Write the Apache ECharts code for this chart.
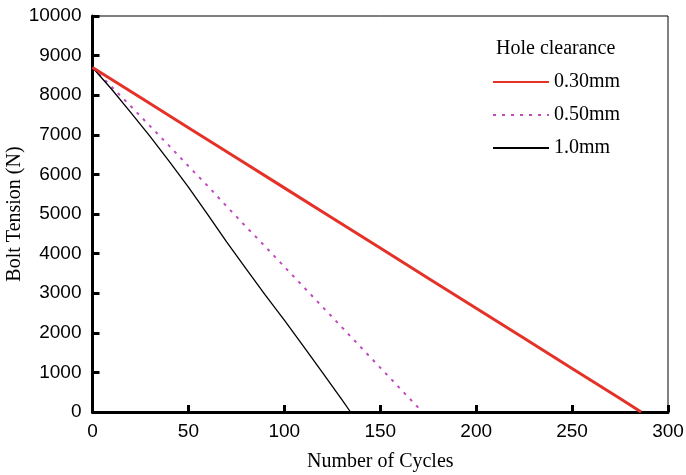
<!DOCTYPE html>
<html>
<head>
<meta charset="utf-8">
<script src="https://cdn.jsdelivr.net/npm/echarts@6/dist/echarts.min.js"></script>
<style>
  html, body { margin: 0; padding: 0; background: #fff; }
  #main { width: 686px; height: 475px; }
</style>
</head>
<body>
<div id="main"></div>
<script>
// values
const cycles030 = [0, 25, 50, 75, 100, 125, 150, 175, 200, 225, 250, 275, 286];
const tension030 = [8700, 7940, 7180, 6420, 5660, 4900, 4140, 3380, 2620, 1860, 1100, 340, 0];

const cycles050 = [0, 10, 20, 30, 40, 50, 60, 70, 80, 90, 100, 110, 120, 130, 140, 150, 160, 170, 171];
const tension050 = [8700, 8210, 7720, 7220, 6720, 6210, 5710, 5190, 4680, 4180, 3670, 3160, 2650, 2140, 1630, 1120, 610, 100, 50];

const cycles10 = [0, 10, 20, 30, 40, 50, 60, 70, 80, 90, 100, 110, 120, 130, 134.5];
const tension10 = [8700, 8150, 7560, 6960, 6330, 5680, 4990, 4290, 3620, 2960, 2320, 1660, 990, 310, 0];

const names = ["0.30mm", "0.50mm", "1.0mm"];

const pairs = (xs, ys) => xs.map((x, i) => [x, ys[i]]);

const serif = "Liberation Serif";
const sans = "Liberation Sans";

const chart = echarts.init(document.getElementById("main"));

chart.setOption({
  animation: false,
  backgroundColor: "#fff",
  title: {
    text: "Hole clearance",
    left: 496,
    top: 39,
    padding: 0,
    textStyle: { fontFamily: serif, fontSize: 20, fontWeight: "normal", color: "#000" }
  },
  legend: {
    orient: "vertical",
    left: 492,
    top: 72,
    padding: 0,
    itemWidth: 56,
    itemHeight: 14,
    itemGap: 13,
    data: names,
    itemStyle: { opacity: 0 },
    textStyle: { fontFamily: serif, fontSize: 20, color: "#000", lineHeight: 20 }
  },
  grid: {
    left: 92.5,
    right: 18,
    top: 16,
    bottom: 63,
    containLabel: false,
    outerBoundsMode: "none",
    show: true,
    borderColor: "#000",
    borderWidth: 1
  },
  xAxis: {
    type: "value",
    min: 0,
    max: 300,
    interval: 50,
    name: "Number of Cycles",
    nameLocation: "middle",
    nameGap: 40,
    nameMoveOverlap: false,
    nameTextStyle: { fontFamily: serif, fontSize: 20, color: "#000" },
    axisLine: { show: true, lineStyle: { color: "#000", width: 3 } },
    axisTick: { show: true, inside: true, length: 7, lineStyle: { color: "#000", width: 3 } },
    axisLabel: { fontFamily: sans, fontSize: 19, color: "#000", margin: 10 },
    splitLine: { show: false }
  },
  yAxis: {
    type: "value",
    min: 0,
    max: 10000,
    interval: 1000,
    name: "Bolt Tension (N)",
    nameLocation: "middle",
    nameGap: 68,
    nameMoveOverlap: false,
    nameTextStyle: { fontFamily: serif, fontSize: 20, color: "#000" },
    axisLine: { show: true, lineStyle: { color: "#000", width: 3 } },
    axisTick: { show: true, inside: true, length: 7, lineStyle: { color: "#000", width: 3 } },
    axisLabel: { fontFamily: sans, fontSize: 19, color: "#000", margin: 11, formatter: v => String(v) },
    splitLine: { show: false }
  },
  series: [
    {
      name: names[0],
      type: "line",
      data: pairs(cycles030, tension030),
      symbol: "none",
      z: 3,
      lineStyle: { color: "#e53228", width: 3 },
      itemStyle: { color: "#e53228" }
    },
    {
      name: names[1],
      type: "line",
      data: pairs(cycles050, tension050),
      symbol: "none",
      z: 2,
      lineStyle: { color: "#c049c0", width: 2, type: [3, 6] },
      itemStyle: { color: "#c049c0" }
    },
    {
      name: names[2],
      type: "line",
      data: pairs(cycles10, tension10),
      symbol: "none",
      z: 2,
      lineStyle: { color: "#000", width: 1.3 },
      itemStyle: { color: "#000" }
    }
  ]
});
</script>
</body>
</html>
